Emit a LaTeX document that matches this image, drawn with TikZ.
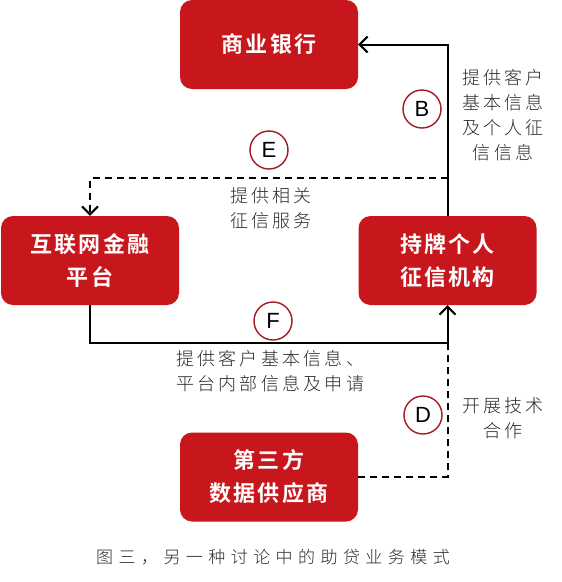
\documentclass[tikz,border=0pt]{standalone}
\usepackage{fontspec}
\usetikzlibrary{arrows.meta}
\newfontfamily\cjkbold[LetterSpace=10]{Noto Sans CJK SC Bold}
\newfontfamily\cjklab[LetterSpace=18]{Noto Sans CJK SC Light}
\newfontfamily\cjkcap[LetterSpace=32]{Noto Sans CJK SC Light}
\newfontfamily\latinsans{Liberation Sans}
\definecolor{boxred}{HTML}{C8161D}
\definecolor{ringred}{HTML}{9E1B20}
\definecolor{labgray}{HTML}{2A2A2A}
\begin{document}
\begin{tikzpicture}[x=1pt,y=-1pt,
  redbox/.style={fill=boxred, rounded corners=12pt, minimum width=178pt, minimum height=89pt,
    text=white, align=center, font=\cjkbold\fontsize{22}{33}\selectfont, inner sep=0pt},
  ring/.style={circle, draw=ringred, line width=1.4pt, fill=white, minimum size=38pt, inner sep=0pt,
    font=\latinsans\fontsize{22}{22}\selectfont},
  lab/.style={text=labgray, align=center, font=\cjklab\fontsize{18}{25}\selectfont, inner sep=0pt},
  conn/.style={line width=2pt, black},
  dconn/.style={conn, dash pattern=on 7pt off 5pt},
  tip/.style={-{Straight Barb[length=8pt,width=16pt,line width=2pt]}}
]
\useasboundingbox (0,0) rectangle (562,582);
\node[redbox] (bank) at (269,44.5) {商业银行};
\node[redbox] (platform) at (90,260.5) {互联网金融\\平台};
\node[redbox] (agency) at (447.5,260.5) {持牌个人\\征信机构};
\node[redbox] (supplier) at (269,477) {第三方\\数据供应商};

\coordinate (bturn) at (agency.north |- bank.east);
\coordinate (esplit) at (447.5,178);
\coordinate (eturn) at (platform.north |- esplit);
\coordinate (fturn1) at (platform.south |- 0,343);
\coordinate (fturn2) at (agency.south |- 0,343);
\coordinate (dturn) at (agency.south |- supplier.east);

\draw[conn,tip] (agency.north) -- (bturn) -- (bank.east);
\draw[dconn,tip] (esplit) -- (eturn) -- (platform.north);
\draw[conn,tip] (platform.south) -- (fturn1) -- (fturn2) -- (agency.south);
\draw[dconn] (supplier.east) -- (dturn) -- (fturn2);

\node[ring] (B) at (422,109) {B};
\node[ring] (E) at (269,150) {E};
\node[ring] (F) at (273,321) {F};
\node[ring] (D) at (423,415) {D};

\node[lab] (lb) at (503,115) {提供客户\\基本信息\\及个人征\\信信息};
\node[lab] (le) at (271,208) {提供相关\\征信服务};
\node[lab, align=left, anchor=north west] (lf) at (176,350) {提供客户基本信息、\\平台内部信息及申请};
\node[lab] (ld) at (503,418) {开展技术\\合作};
\node[text=labgray, font=\cjkcap\fontsize{17}{20}\selectfont, anchor=west, inner sep=0pt] (cap) at (96,557) {图三，另一种讨论中的助贷业务模式};
\end{tikzpicture}
\end{document}
